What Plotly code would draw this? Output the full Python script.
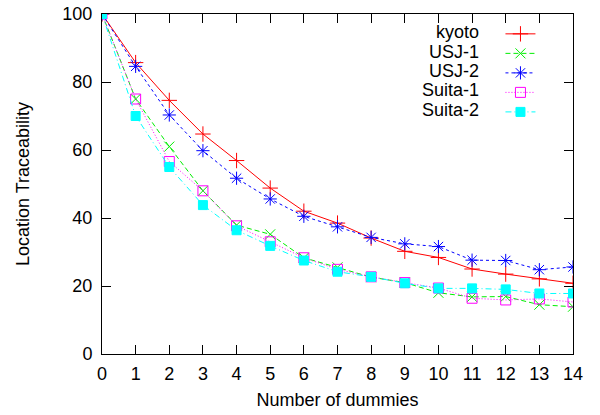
import plotly.graph_objects as go

dummies = list(range(15))
kyoto = [100, 85.7, 74.6, 64.7, 56.9, 48.8, 42.0, 38.5, 34.1, 30.2, 28.4, 25.0, 23.5, 22.1, 20.8]
usj1 = [100, 75.0, 61.0, 48.0, 37.9, 35.2, 28.3, 25.5, 22.6, 21.0, 18.0, 16.8, 16.9, 14.5, 13.9]
usj2 = [100, 84.6, 70.3, 59.8, 51.7, 45.6, 40.5, 37.4, 34.3, 32.4, 31.6, 27.6, 27.5, 24.8, 25.6]
suita1 = [100, 75.0, 56.6, 48.0, 37.7, 33.0, 28.3, 24.9, 22.7, 21.0, 19.4, 16.4, 15.9, 16.2, 15.3]
suita2 = [100, 70.0, 55.0, 43.8, 36.4, 31.8, 27.5, 24.2, 22.7, 20.8, 19.3, 19.3, 19.0, 17.8, 17.8]
names = ["kyoto", "USJ-1", "USJ-2", "Suita-1", "Suita-2"]
x_tick_labels = [str(v) for v in dummies]

FONT = "Liberation Sans, Arial, sans-serif"

styles = [
    dict(color="#ff0000", dash="solid", symbol="cross-thin", size=11),
    dict(color="#00ee00", dash="5px,3px", symbol="x-thin", size=10),
    dict(color="#0000ff", dash="3px,3px", symbol="asterisk", size=11),
    dict(color="#ff00ff", dash="1px,2px", symbol="square-open", size=10),
    dict(color="#00ffff", dash="6px,3px,1px,3px", symbol="square", size=9),
]

fig = go.Figure()
for name, ys, st in zip(names, [kyoto, usj1, usj2, suita1, suita2], styles):
    fig.add_trace(go.Scatter(
        x=dummies, y=ys, name=name, mode="lines+markers",
        line=dict(color=st["color"], width=1, dash=st["dash"]),
        marker=dict(symbol=st["symbol"], size=st["size"], color=st["color"],
                    line=dict(color=st["color"], width=1)),
    ))

# legend labels (right-aligned, left of the samples as in the reference)
row_y = [0.947, 0.889, 0.832, 0.775, 0.718]
for name, yy in zip(names, row_y):
    fig.add_annotation(x=0.805, y=yy, xref="paper", yref="paper", text=name,
                       showarrow=False, xanchor="right", yanchor="middle",
                       font=dict(family=FONT, size=18, color="black"))

axis_common = dict(showline=True, linecolor="black", linewidth=1, mirror="allticks",
                   ticks="inside", ticklen=9, tickcolor="black", tickwidth=1,
                   showgrid=False, zeroline=False, ticklabeloverflow="allow",
                   tickfont=dict(family=FONT, size=18, color="black"))

fig.update_xaxes(range=[0, 14], tickvals=dummies, ticktext=x_tick_labels,
                 title=dict(text="Number of dummies", font=dict(family=FONT, size=18, color="black"), standoff=10),
                 ticklabelstandoff=3, **axis_common)
fig.update_yaxes(range=[0, 100], tickvals=[0, 20, 40, 60, 80, 100],
                 title=dict(text="Location Traceability", font=dict(family=FONT, size=18, color="black"), standoff=28),
                 ticklabelstandoff=5, **axis_common)

fig.update_layout(
    width=600, height=415,
    margin=dict(l=102, r=27, t=14, b=61, autoexpand=False),
    paper_bgcolor="white", plot_bgcolor="white",
    font=dict(family=FONT, size=18, color="black"),
    showlegend=True,
    legend=dict(x=0.846, y=0.985, xanchor="left", yanchor="top",
                bgcolor="rgba(0,0,0,0)", borderwidth=0,
                font=dict(family=FONT, size=12.7, color="rgba(0,0,0,0)")),
)

# remove the default 8px page margin so the figure sits at the window's corner
fig.write_html("out.html", config={"displayModeBar": False},
               post_script="document.body.style.margin='0';")
